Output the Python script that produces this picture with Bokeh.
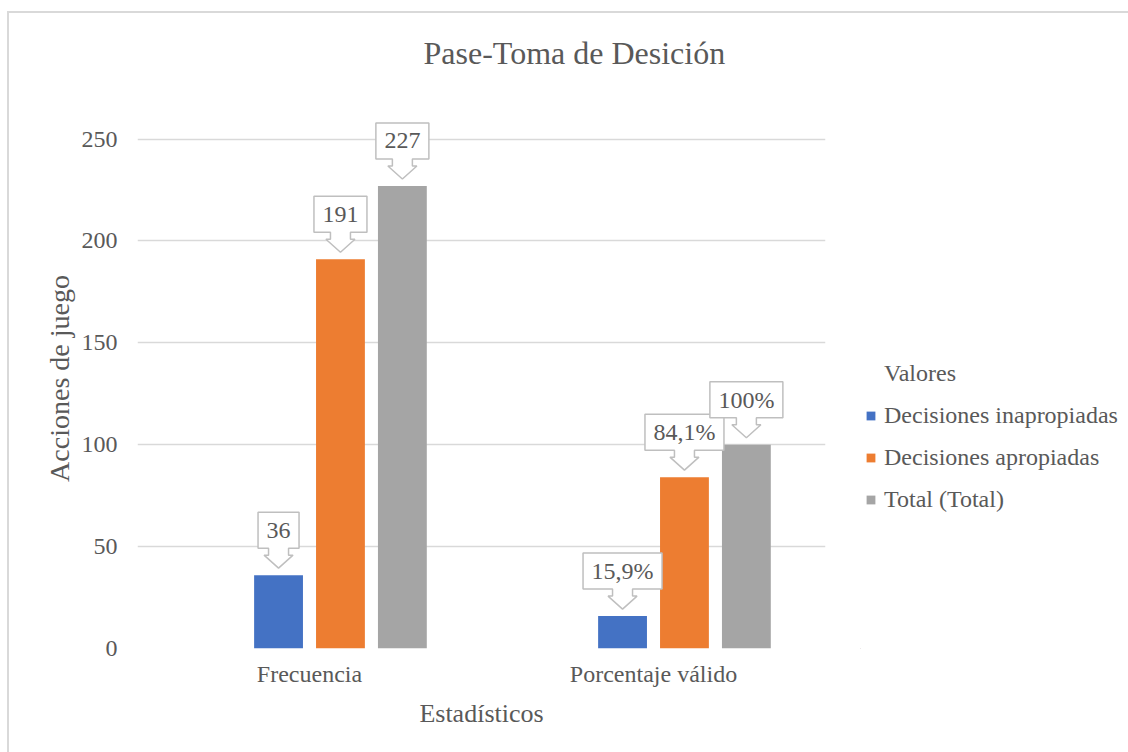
from bokeh.plotting import figure
from bokeh.layouts import row
from bokeh.models import (FactorRange, Range1d, FixedTicker, Legend, LegendItem,
                          ColumnDataSource, Title)
from bokeh.transform import dodge
from bokeh.core.properties import value
from bokeh.embed import file_html
from bokeh.resources import INLINE

# ---- data ----
categories = ["Frecuencia", "Porcentaje válido"]
series_names = ["Decisiones inapropiadas", "Decisiones apropiadas", "Total (Total)"]
inapropiadas = [36, 15.9]
apropiadas = [191, 84.1]
total = [227, 100]
labels_inapropiadas = ["36", "15,9%"]
labels_apropiadas = ["191", "84,1%"]
labels_total = ["227", "100%"]
y_ticks = [0, 50, 100, 150, 200, 250]
legend_title = "Valores"
chart_title = "Pase-Toma de Desición"

# ---- style ----
FONT = "Liberation Serif"
TXT = "#595959"
GRID = "#d9d9d9"
colors = ["#4472C4", "#ED7D31", "#A5A5A5"]
offsets = [-0.09, 0.09, 0.27]
BAR_W = 0.142

OX, OY = 9, 13          # canvas origin on the page (after css margin + border)
H = 752 - OY
SPLIT = 860             # page x where the legend panel starts
W1 = SPLIT - OX
W2 = 1128 - SPLIT
ML = 137 - OX
FRAME_W = 688
MR = W1 - ML - FRAME_W
MT = 108 - OY
FRAME_H = 540
MB = H - MT - FRAME_H
Y_END = 265
X_PX = FRAME_W / len(categories)   # pixels per category unit
Y_PX = FRAME_H / Y_END             # pixels per value unit

p = figure(width=W1, height=H, x_range=FactorRange(factors=categories, range_padding=0),
           y_range=Range1d(0, Y_END), output_backend="svg", toolbar_location=None,
           min_border_left=ML, min_border_right=MR, min_border_top=MT,
           min_border_bottom=MB, background_fill_color="white",
           border_fill_color="white")
p.outline_line_color = None

# blank spacer between the frame and the title
p.add_layout(Title(text=" ", text_font_size="20px", standoff=14), "above")

# title
p.title.text = chart_title
p.title.text_font = FONT
p.title.text_font_size = "32px"
p.title.text_font_style = "normal"
p.title.text_color = TXT
p.title.align = "left"
p.title.offset = 286
p.title.standoff = 0

# axes
p.yaxis.ticker = FixedTicker(ticks=y_ticks)
for ax in (p.xaxis[0], p.yaxis[0]):
    ax.axis_line_color = None
    ax.major_tick_line_color = None
    ax.minor_tick_line_color = None
    ax.major_label_text_font = FONT
    ax.major_label_text_font_size = "24px"
    ax.major_label_text_color = TXT
    ax.axis_label_text_font = FONT
    ax.axis_label_text_color = TXT
    ax.axis_label_text_font_style = "normal"
    ax.major_tick_out = 0
    ax.major_tick_in = 0
p.xaxis.axis_label = "Estadísticos"
p.yaxis.axis_label = "Acciones de juego"
p.xaxis.axis_label_text_font_size = "26px"
p.yaxis.axis_label_text_font_size = "28px"
p.xaxis.major_label_standoff = 12
p.xaxis.axis_label_standoff = 9
p.yaxis.major_label_standoff = 20
p.yaxis.axis_label_standoff = 4
p.xgrid.grid_line_color = None
p.ygrid.grid_line_color = GRID
p.ygrid.grid_line_width = 1.5

# bars
series_vals = [inapropiadas, apropiadas, total]
series_labels = [labels_inapropiadas, labels_apropiadas, labels_total]
for name, vals, col, off in zip(series_names, series_vals, colors, offsets):
    src = ColumnDataSource(dict(cat=categories, val=vals))
    p.vbar(x=dodge("cat", off, range=p.x_range), top="val", width=BAR_W,
           source=src, fill_color=col, line_color=None)


def text_width(s):
    w = 0
    for ch in s:
        if ch == ",":
            w += 6
        elif ch == "%":
            w += 20
        else:
            w += 12
    return w


# callout data labels
xs, ys, tx, ty, tt = [], [], [], [], []
for vals, labs, off in zip(series_vals, series_labels, offsets):
    for i, (v, lab) in enumerate(zip(vals, labs)):
        cx = i + 0.5 + off
        half = (text_width(lab) + 17) / 2 / X_PX
        sh = 10 / X_PX
        hh = 14.5 / X_PX
        tip = v + 7 / Y_PX
        head = v + 20 / Y_PX
        bot = v + 27 / Y_PX
        top = v + 63 / Y_PX
        xs.append([cx - half, cx + half, cx + half, cx + sh, cx + sh, cx + hh, cx,
                   cx - hh, cx - sh, cx - sh, cx - half])
        ys.append([top, top, bot, bot, head, head, tip, head, head, bot, bot])
        tx.append(cx)
        ty.append(v + 45 / Y_PX)
        tt.append(lab)

p.patches(xs=xs, ys=ys, fill_color="white", line_color="#bfbfbf", line_width=1.5)
p.text(x=tx, y=ty, text=tt, text_align="center", text_baseline="middle",
       text_font=value(FONT), text_font_size="24px", text_color=TXT)

# legend panel (second figure, no axes); swatch proxies sit outside its range
p2 = figure(width=W2, height=H, x_range=Range1d(0, 1), y_range=Range1d(0, 1),
            x_axis_type=None, y_axis_type=None, output_backend="svg",
            toolbar_location=None, min_border=0, background_fill_color="white",
            border_fill_color="white")
p2.outline_line_color = None
p2.xgrid.visible = False
p2.ygrid.visible = False
hdr = p2.vbar(x=[-5], top=[-5], width=0.1, fill_alpha=0, line_alpha=0)
items = [LegendItem(label=legend_title, renderers=[hdr])]
for name, col in zip(series_names, colors):
    r = p2.vbar(x=[-5], top=[-5], width=0.1, fill_color=col, line_color=None)
    items.append(LegendItem(label=name, renderers=[r]))

legend = Legend(items=items, location=(865 - SPLIT, 648 - 514), orientation="vertical",
                label_text_font=FONT, label_text_font_size="24px",
                label_text_color=TXT, glyph_width=11, glyph_height=11,
                label_standoff=8, label_height=30, spacing=12, padding=0,
                margin=0, border_line_color=None, background_fill_alpha=0)
p2.add_layout(legend, "center")

layout = row(p, p2, spacing=0)
layout.styles = {"margin-left": "7px", "margin-top": "11px",
                 "border-left": "2px solid #d9d9d9", "border-top": "2px solid #d9d9d9"}

open("out.html", "w").write(file_html(layout, INLINE))
